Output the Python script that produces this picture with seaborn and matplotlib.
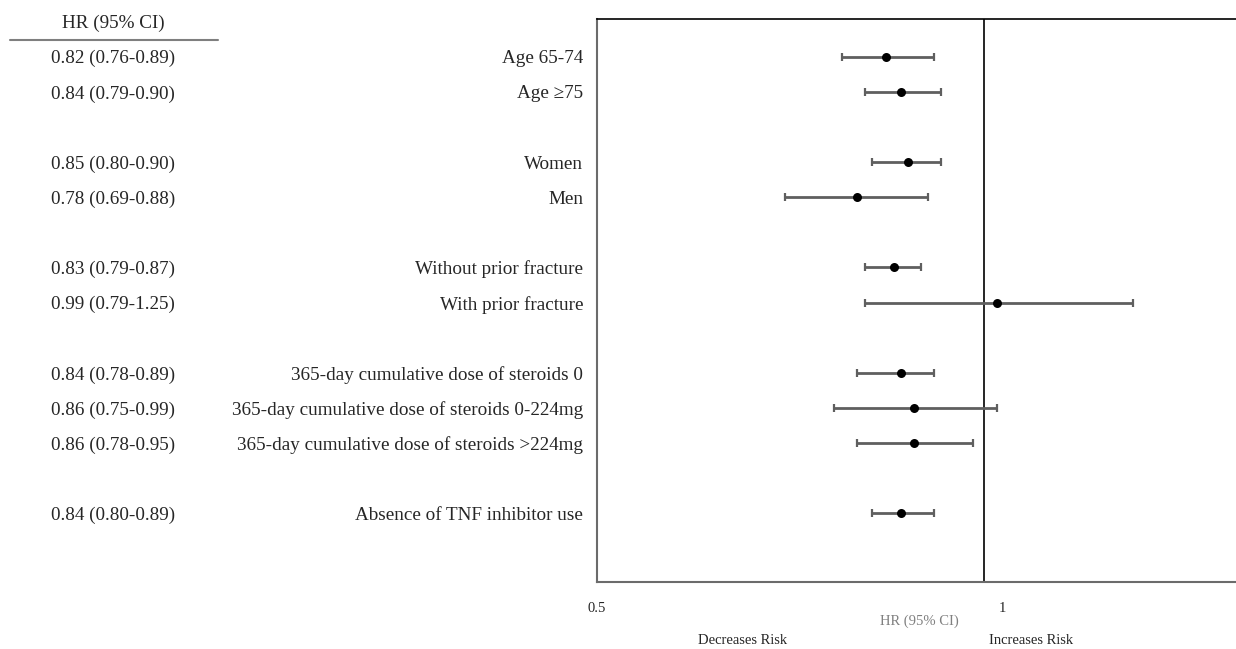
import matplotlib
matplotlib.use("Agg")
import matplotlib.pyplot as plt
import matplotlib.transforms as mtransforms
from matplotlib.lines import Line2D
from matplotlib.ticker import FixedLocator, FixedFormatter, NullLocator
import numpy as np
import pandas as pd
import seaborn as sns

# Datos del forest plot
subgroups = [
    "Age 65-74",
    "Age \u226575",
    "Women",
    "Men",
    "Without prior fracture",
    "With prior fracture",
    "365-day cumulative dose of steroids 0",
    "365-day cumulative dose of steroids 0-224mg",
    "365-day cumulative dose of steroids >224mg",
    "Absence of TNF inhibitor use",
]
row_pos = [0, 1, 3, 4, 6, 7, 9, 10, 11, 13]
hr = [0.82, 0.84, 0.85, 0.78, 0.83, 0.99, 0.84, 0.86, 0.86, 0.84]
ci_low = [0.76, 0.79, 0.80, 0.69, 0.79, 0.79, 0.78, 0.75, 0.78, 0.80]
ci_high = [0.89, 0.90, 0.90, 0.88, 0.87, 1.25, 0.89, 0.99, 0.95, 0.89]
ref_line = 0.968
x_ticks = [0.5, 1]
x_tick_labels = ["0.5", "1"]

df = pd.DataFrame({"label": subgroups, "y": row_pos, "hr": hr,
                   "lo": ci_low, "hi": ci_high})

sns.set_style("white")
plt.rcParams["font.family"] = ["Liberation Serif", "DejaVu Serif"]
FS = 13.8

fig = plt.figure(figsize=(12.36, 6.49), dpi=100)
ax = fig.add_axes([0.483, 0.103, 0.517, 0.868])

ax.errorbar(df["hr"], df["y"],
            xerr=[df["hr"] - df["lo"], df["hi"] - df["hr"]],
            fmt="none", ecolor="#5f5f5f", elinewidth=2, capsize=2.8,
            capthick=1.6, zorder=2)
sns.scatterplot(data=df, x="hr", y="y", color="black", s=42,
                edgecolor="black", linewidth=0, ax=ax, zorder=3)
ax.axvline(ref_line, color="black", lw=1.2, zorder=1)

ax.set_xscale("log", base=2)
ax.set_xlim(0.5, 1.49)
ax.set_ylim(14.96, -1.08)
ax.xaxis.set_major_locator(FixedLocator(x_ticks))
ax.xaxis.set_major_formatter(FixedFormatter(x_tick_labels))
ax.xaxis.set_minor_locator(NullLocator())
ax.tick_params(axis="x", direction="in", length=4, width=0.8, color="#333333",
               labelsize=10.5, pad=14)
ax.set_yticks(row_pos)
ax.set_yticklabels(subgroups, fontsize=FS)
ax.tick_params(axis="y", length=0, pad=10)
ax.set_xlabel("")
ax.set_ylabel("")

for side in ["left", "bottom"]:
    ax.spines[side].set_color("#6b6b6b")
    ax.spines[side].set_linewidth(1.5)
ax.spines["top"].set_color("black")
ax.spines["top"].set_linewidth(1.2)
ax.spines["right"].set_visible(False)

# Columna HR (95% CI) a la izquierda
blend = mtransforms.blended_transform_factory(fig.transFigure, ax.transData)
ax.text(0.0915, -1, "HR (95% CI)", transform=blend, ha="center",
        va="center_baseline", fontsize=FS, clip_on=False)
for _, r in df.iterrows():
    ax.text(0.0915, r["y"], f"{r['hr']:.2f} ({r['lo']:.2f}-{r['hi']:.2f})",
            transform=blend, ha="center", va="center_baseline", fontsize=FS,
            clip_on=False)
fig.add_artist(Line2D([0.008, 0.176], [0.938, 0.938], transform=fig.transFigure,
                      color="#7f7f7f", lw=1.5))

# Etiquetas inferiores
fig.text(0.7435, 1 - 621 / 649, "HR (95% CI)", ha="center", va="center",
         fontsize=10.5, color="#808080")
fig.text(0.601, 1 - 640 / 649, "Decreases Risk", ha="center", va="center",
         fontsize=10.5)
fig.text(0.834, 1 - 640 / 649, "Increases Risk", ha="center", va="center",
         fontsize=10.5)

fig.savefig("out.png", dpi=100)
plt.close(fig)
